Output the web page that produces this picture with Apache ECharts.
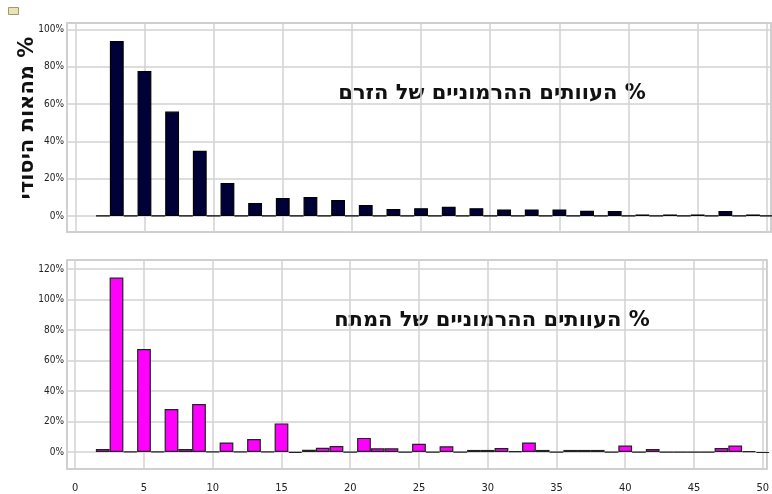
<!DOCTYPE html>
<html lang="he">
<head>
    <meta charset="UTF-8">
    <title>Harmonic distortion</title>
    <script src="https://cdn.jsdelivr.net/npm/echarts@6/dist/echarts.min.js"></script>
    <style>
        html, body, #chart {
            width: 772px;
            height: 494px;
            padding: 0;
            margin: 0;
            background: #fff;
        }
    </style>
</head>
<body>
<div id="chart"></div>
<script>
    // harmonic orders 2..50
    var orders = [];
    for (var n = 2; n <= 50; n++) orders.push(n);

    // % of fundamental, current (top)
    var currentPct = [
        0, 93.8, 0, 77.7, 0, 56, 0, 35, 0, 17.7,
        0, 7, 0, 9.6, 0, 10.2, 0, 8.6, 0, 5.9,
        0, 3.7, 0, 4.2, 0, 4.9, 0, 4.2, 0, 3.5,
        0, 3.5, 0, 3.5, 0, 2.8, 0, 2.7, 0, 0.8,
        0, 0.8, 0, 0.8, 0, 2.7, 0, 0.8, 0
    ];

    // % of fundamental, voltage (bottom)
    var voltagePct = [
        2, 114.4, 0.3, 67.5, 0.3, 28.2, 2, 31.5, 0.3, 6.3,
        0.3, 8.5, 0.3, 18.8, -0.5, 1.6, 2.8, 4, 0, 9.3,
        2.5, 2.5, 0, 5.4, 0, 3.8, 0, 1.4, 1.4, 2.6,
        0.5, 6.3, 1.4, 0, 1.4, 1.4, 1.4, 0, 4.3, 0,
        2, 0, 0, 0, 0, 2.7, 4.3, 0.5, -0.6
    ];

    var xTicks = [0, 5, 10, 15, 20, 25, 30, 35, 40, 45, 50];
    var topYTicks = [0, 20, 40, 60, 80, 100];
    var bottomYTicks = [0, 20, 40, 60, 80, 100, 120];

    var titleTop = "העוותים ההרמוניים של הזרם %";
    var titleBottom = "העוותים ההרמוניים של המתח %";
    var yName = "מהאות היסודי %";

    var narrow = "'Liberation Sans Narrow', 'DejaVu Sans Condensed', sans-serif";
    var heb = "'DejaVu Sans', 'Liberation Sans', sans-serif";

    function pairs(vals) {
        return orders.map(function (o, i) {
            return [o, vals[i]];
        });
    }

    function xAxisCfg(idx, showLabels) {
        return {
            type: "value",
            gridIndex: idx,
            min: -0.6,
            max: 50.3,
            minInterval: 5,
            maxInterval: 5,
            axisLine: {show: false},
            axisTick: {show: false},
            axisLabel: {
                show: showLabels,
                color: "#222",
                fontFamily: narrow,
                fontSize: 11,
                margin: 14,
                formatter: function (v) {
                    return xTicks.indexOf(Math.round(v * 10) / 10) >= 0 ? String(v) : "";
                }
            },
            splitLine: {
                show: true,
                lineStyle: {color: "#d2d2d2", width: 1.5}
            }
        };
    }

    function yAxisCfg(idx, min, max, ticks) {
        return {
            type: "value",
            gridIndex: idx,
            min: min,
            max: max,
            minInterval: 20,
            maxInterval: 20,
            axisLine: {show: false},
            axisTick: {show: false},
            axisLabel: {
                color: "#222",
                fontFamily: narrow,
                fontSize: 10,
                margin: 3,
                formatter: function (v) {
                    return ticks.indexOf(Math.round(v * 10) / 10) >= 0 ? v + "%" : "";
                }
            },
            splitLine: {
                show: true,
                lineStyle: {color: "#d2d2d2", width: 1.5}
            }
        };
    }

    var chart = echarts.init(document.getElementById("chart"), null, {renderer: "canvas"});

    chart.setOption({
        backgroundColor: "#fff",
        animation: false,
        grid: [
            {left: 67, top: 23, width: 704, height: 209, show: true, borderColor: "#b4b4b4", borderWidth: 1.5, backgroundColor: "transparent"},
            {left: 67, top: 260, width: 704, height: 209, show: true, borderColor: "#b4b4b4", borderWidth: 1.5, backgroundColor: "transparent"}
        ],
        xAxis: [xAxisCfg(0, false), xAxisCfg(1, true)],
        yAxis: [
            yAxisCfg(0, -8.6, 103.5, topYTicks),
            yAxisCfg(1, -11.1, 125.9, bottomYTicks)
        ],
        series: [{
            type: "bar",
            xAxisIndex: 0,
            yAxisIndex: 0,
            barWidth: "100%",
            data: pairs(currentPct),
            itemStyle: {color: "#000038", borderColor: "#000", borderWidth: 1.2}
        }, {
            type: "bar",
            xAxisIndex: 1,
            yAxisIndex: 1,
            barWidth: "100%",
            data: pairs(voltagePct),
            itemStyle: {color: "#ff00ff", borderColor: "#222", borderWidth: 1.2}
        }],
        graphic: [{
            type: "rect",
            left: 8, top: 7,
            shape: {width: 10, height: 7},
            style: {fill: "#ece4b0", stroke: "#9a9a7a", lineWidth: 1}
        }, {
            type: "text",
            x: 492, y: 94,
            style: {text: titleTop, font: "bold 21px " + heb, fill: "#111", align: "center", verticalAlign: "middle"}
        }, {
            type: "text",
            x: 492, y: 321,
            style: {text: titleBottom, font: "bold 21px " + heb, fill: "#111", align: "center", verticalAlign: "middle"}
        }, {
            type: "text",
            x: 28, y: 118,
            rotation: Math.PI / 2,
            style: {text: yName, font: "bold 21px " + heb, fill: "#111", align: "center", verticalAlign: "middle"}
        }]
    });
</script>
</body>
</html>
